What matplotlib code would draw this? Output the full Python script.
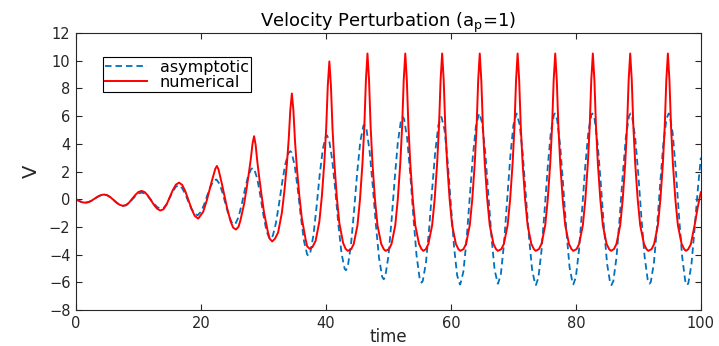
import matplotlib.pyplot as plt
import numpy as np

# asymptotic solution, read every 0.5 time units
v_asym = [
    0, -0.13, -0.22, -0.25, -0.21, -0.105, 0.04, 0.185, 0.29, 0.33,
    0.28, 0.139, -0.055, -0.253, -0.407, -0.478, -0.436, -0.27, -0.026, 0.225,
    0.41, 0.48, 0.41, 0.218, -0.052, -0.336, -0.566, -0.689, -0.65, -0.357,
    0.10, 0.575, 0.91, 0.995, 0.795, 0.363, -0.188, -0.707, -1.057, -1.144,
    -0.905, -0.388, 0.27, 0.89, 1.31, 1.41, 1.09, 0.396, -0.467, -1.258,
    -1.745, -1.785, -1.304, -0.417, 0.64, 1.583, 2.16, 2.196, 1.507, 0.263,
    -1.158, -2.32, -2.865, -2.638, -1.718, -0.324, 1.216, 2.54, 3.333, 3.38,
    2.436, 0.703, -1.317, -3.042, -3.993, -3.86, -2.60, -0.54, 1.745, 3.62,
    4.56, 4.31, 2.865, 0.647, -1.859, -3.916, -5.03, -4.862, -3.338, -0.852,
    1.906, 4.177, 5.312, 5.034, 3.438, 0.922, -1.874, -4.24, -5.60, -5.587,
    -4.116, -1.555, 1.428, 4.059, 5.665, 5.81, 4.403, 1.808, -1.284, -4.04,
    -5.727, -5.90, -4.62, -2.223, 0.708, 3.446, 5.348, 5.93, 4.97, 2.64,
    -0.425, -3.407, -5.50, -6.15, -5.23, -2.986, 0.015, 3.016, 5.258, 6.18,
    5.52, 3.39, 0.365, -2.745, -5.11, -6.09, -5.405, -3.212, -0.121, 3.03,
    5.34, 6.19, 5.41, 3.27, 0.305, -2.73, -5.085, -6.17, -5.68, -3.73,
    -0.80, 2.33, 4.86, 6.115, 5.76, 3.83, 0.835, -2.38, -4.93, -6.11,
    -5.63, -3.69, -0.77, 2.35, 4.86, 6.12, 5.79, 3.96, 1.105, -2.04,
    -4.66, -6.07, -5.91, -4.21, -1.42, 1.73, 4.44, 5.99, 5.99, 4.445,
    1.76, -1.37, -4.13, -5.81, -5.97, -4.57, -1.98, 1.145, 3.99, 5.80,
    6.11, 4.77, 2.10, -1.15, -4.075, -5.89, -6.07, -4.71, -2.16, 0.6,
    3.0,
]
t_asym = np.arange(0, 100.5, 0.5)

# extrema of the asymptotic curve that fall between samples
asym_ext_t = [13.7, 16.4, 19.4, 22.4, 25.3, 28.3, 31.1, 34.3, 37.2, 40.15,
              43.2, 46.15, 49.25, 52.3, 55.3, 58.45, 61.45, 64.55, 67.55,
              73.6, 76.65, 79.6, 82.65, 85.7, 88.75, 91.8, 94.85, 97.8]
asym_ext_v = [-0.7, 1.0, -1.15, 1.42, -1.83, 2.26, -2.88, 3.47, -4.08, 4.62,
              -5.13, 5.38, -5.78, 5.94, -6.02, 5.94, -6.16, 6.19, -6.1,
              -6.2, 6.19, -6.15, 6.19, -6.2, 6.19, -6.1, 6.19, -6.2]

# numerical solution
t_num = [
    0, 0.5, 1.0, 1.5, 2.0, 2.5, 3.0, 3.5, 4.0, 4.5,
    5.0, 5.5, 6.0, 6.5, 7.0, 7.5, 8.0, 8.5, 9.0, 9.5,
    10.0, 10.5, 11.0, 11.5, 12.0, 12.5, 13.0, 13.5, 14.0, 14.5,
    15.0, 15.5, 16.0, 16.5, 17.0, 17.5, 18.0, 18.5, 19.0, 19.55,
    20.35, 20.95, 21.35, 21.75, 22.05, 22.3, 22.55, 22.8, 23.05, 23.35, 23.75, 24.15, 24.75, 25.15, 25.6,
    26.0, 26.3, 26.9, 27.3, 27.7, 28.0, 28.25, 28.5, 28.75, 29.0, 29.3, 29.7, 30.1, 30.7, 31.0, 31.4,
    31.85, 32.35, 32.95, 33.35, 33.75, 34.05, 34.3, 34.55, 34.8, 35.05, 35.35, 35.75, 36.15, 36.75, 37.0, 37.4,
    37.85, 38.35, 38.95, 39.35, 39.75, 40.05, 40.3, 40.55, 40.8, 41.05, 41.35, 41.75, 42.15, 42.75, 43.15, 43.5,
    44.05, 44.45, 45.05, 45.45, 45.85, 46.15, 46.4, 46.65, 46.9, 47.15, 47.45, 47.85, 48.25, 48.85, 49.25, 49.55,
    50.1, 50.5, 51.1, 51.5, 51.9, 52.2, 52.45, 52.7, 52.95, 53.2, 53.5, 53.9, 54.3, 54.9, 55.3, 55.6,
    56.0, 56.4, 57.0, 57.4, 57.8, 58.1, 58.35, 58.6, 58.85, 59.1, 59.4, 59.8, 60.2, 60.8, 61.2, 61.5,
    62.02, 62.42, 63.02, 63.42, 63.82, 64.12, 64.37, 64.62, 64.87, 65.12, 65.42, 65.82, 66.22, 66.82, 67.22, 67.52,
    68.08, 68.48, 69.08, 69.48, 69.88, 70.18, 70.43, 70.68, 70.93, 71.18, 71.48, 71.88, 72.28, 72.88, 73.28, 73.58,
    74.1, 74.5, 75.1, 75.5, 75.9, 76.2, 76.45, 76.7, 76.95, 77.2, 77.5, 77.9, 78.3, 78.9, 79.3, 79.6,
    80.12, 80.52, 81.12, 81.52, 81.92, 82.22, 82.47, 82.72, 82.97, 83.22, 83.52, 83.92, 84.32, 84.92, 85.32, 85.62,
    86.1, 86.5, 87.1, 87.5, 87.9, 88.2, 88.45, 88.7, 88.95, 89.2, 89.5, 89.9, 90.3, 90.9, 91.3, 91.6,
    92.13, 92.53, 93.13, 93.53, 93.93, 94.23, 94.48, 94.73, 94.98, 95.23, 95.53, 95.93, 96.33, 96.93, 97.33, 97.63,
    98.0, 98.4, 99.0, 99.5, 100.0,
]
v_num = [
    0, -0.13, -0.22, -0.25, -0.21, -0.10, 0.045, 0.19, 0.30, 0.34,
    0.29, 0.146, -0.05, -0.25, -0.406, -0.478, -0.43, -0.243, 0.03, 0.313,
    0.523, 0.6, 0.51, 0.266, -0.075, -0.422, -0.692, -0.816, -0.727, -0.377,
    0.135, 0.663, 1.056, 1.2, 1.031, 0.57, -0.066, -0.711, -1.2, -1.4,
    -0.92, -0.06, 0.64, 1.33, 1.80, 2.20, 2.40, 2.16, 1.68, 1.11, 0.275, -0.57, -1.61, -2.05, -2.19,
    -2.0, -1.56, -0.35, 0.76, 1.99, 2.99, 4.00, 4.55, 3.93, 2.79, 1.66, 0.28, -0.98, -2.34, -2.85, -3.05,
    -2.85, -2.40, -0.98, 0.58, 2.53, 4.36, 6.44, 7.63, 6.39, 4.20, 2.27, 0.23, -1.40, -2.90, -3.4, -3.58,
    -3.45, -3.01, -1.61, 0.22, 2.70, 5.20, 8.22, 9.95, 8.20, 5.15, 2.62, 0.11, -1.73, -3.16, -3.58, -3.73,
    -3.6, -3.23, -1.88, -0.02, 2.59, 5.29, 8.59, 10.52, 8.59, 5.29, 2.59, -0.02, -1.88, -3.23, -3.6, -3.73,
    -3.6, -3.23, -1.88, -0.02, 2.59, 5.29, 8.59, 10.52, 8.59, 5.29, 2.59, -0.02, -1.88, -3.23, -3.6, -3.73,
    -3.6, -3.23, -1.88, -0.02, 2.59, 5.29, 8.59, 10.52, 8.59, 5.29, 2.59, -0.02, -1.88, -3.23, -3.6, -3.73,
    -3.6, -3.23, -1.88, -0.02, 2.59, 5.29, 8.59, 10.52, 8.59, 5.29, 2.59, -0.02, -1.88, -3.23, -3.6, -3.73,
    -3.6, -3.23, -1.88, -0.02, 2.59, 5.29, 8.59, 10.52, 8.59, 5.29, 2.59, -0.02, -1.88, -3.23, -3.6, -3.73,
    -3.6, -3.23, -1.88, -0.02, 2.59, 5.29, 8.59, 10.52, 8.59, 5.29, 2.59, -0.02, -1.88, -3.23, -3.6, -3.73,
    -3.6, -3.23, -1.88, -0.02, 2.59, 5.29, 8.59, 10.52, 8.59, 5.29, 2.59, -0.02, -1.88, -3.23, -3.6, -3.73,
    -3.6, -3.23, -1.88, -0.02, 2.59, 5.29, 8.59, 10.52, 8.59, 5.29, 2.59, -0.02, -1.88, -3.23, -3.6, -3.73,
    -3.6, -3.23, -1.88, -0.02, 2.59, 5.29, 8.59, 10.52, 8.59, 5.29, 2.59, -0.02, -1.88, -3.23, -3.6, -3.73,
    -3.6, -3.25, -1.9, -0.6, 0.5,
]

x_ticks = [0, 20, 40, 60, 80, 100]
y_ticks = [-8, -6, -4, -2, 0, 2, 4, 6, 8, 10, 12]

# merge extrema into the sampled asymptotic curve
ta = np.concatenate([t_asym, asym_ext_t])
va = np.concatenate([v_asym, asym_ext_v])
order = np.argsort(ta, kind="stable")
ta, va = ta[order], va[order]

plt.rcParams['font.family'] = ['DejaVu Sans']
dark = '#262626'

fig = plt.figure(figsize=(7.19, 3.46), dpi=100)
ax = fig.add_axes([0.1057, 0.104, 0.869, 0.8006])

ax.plot(ta, va, '--', color='#0072BD', lw=1.3, dashes=(3.6, 2.2), label='asymptotic')
ax.plot(t_num, v_num, '-', color='red', lw=1.4, label='numerical')

ax.set_xlim(0, 100)
ax.set_ylim(-8, 12)
ax.set_xticks(x_ticks)
ax.set_yticks(y_ticks)
ax.tick_params(direction='in', length=4, width=0.8, top=True, right=True,
               colors=dark, labelsize=10.5, pad=4)
for s in ax.spines.values():
    s.set_color(dark)
    s.set_linewidth(0.8)

ax.set_title('Velocity Perturbation (a$_\\mathregular{p}$=1)', fontsize=13, color='black', pad=4)
ax.set_xlabel('time', fontsize=12, color=dark, labelpad=-2)
ax.set_ylabel('V', fontsize=14, color=dark, labelpad=6)

leg = ax.legend(loc='upper left', bbox_to_anchor=(0.043, 0.913), borderaxespad=0,
                fontsize=11.5, handlelength=2.6, handletextpad=0.8, labelspacing=0.0,
                borderpad=0.15, fancybox=False, framealpha=1, edgecolor='black')
leg.get_frame().set_linewidth(0.8)

fig.savefig('out.png', dpi=100)
